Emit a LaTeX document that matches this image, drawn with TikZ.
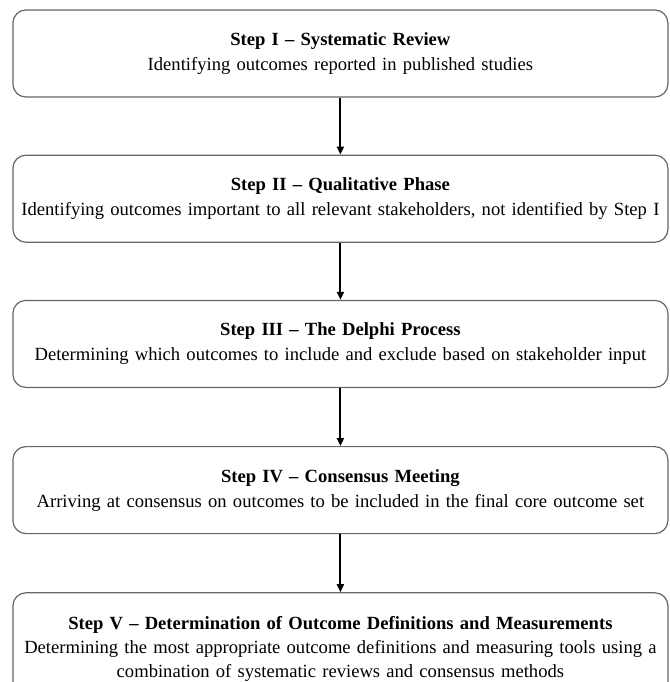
\documentclass[tikz,border=0pt]{standalone}
\usepackage{fontspec}
\setmainfont{Liberation Serif}[WordSpace=0.85]
\usetikzlibrary{positioning,arrows.meta}

\tikzset{
  stepbox/.style={draw=black!60, line width=1.2pt, rounded corners=13pt,
    text width=655pt, align=center, minimum height=87pt, inner sep=0pt,
    font=\fontsize{18.6}{25}\selectfont},
  flow/.style={-{Triangle[length=8pt,width=7pt]}, line width=2pt}
}

\begin{document}
\begin{tikzpicture}
\useasboundingbox (0pt,0pt) rectangle (669pt,-682pt);

\node[stepbox] (review) at (340.4pt,-53.5pt)
  {\textbf{Step I -- Systematic Review}\\
   Identifying outcomes reported in published studies};
\node[stepbox, below=57pt of review] (qual)
  {\textbf{Step II -- Qualitative Phase}\\
   Identifying outcomes important to all relevant stakeholders, not identified by Step I};
\node[stepbox, below=57pt of qual] (delphi)
  {\textbf{Step III -- The Delphi Process}\\
   Determining which outcomes to include and exclude based on stakeholder input};
\node[stepbox, below=58pt of delphi] (meeting)
  {\textbf{Step IV -- Consensus Meeting}\\
   Arriving at consensus on outcomes to be included in the final core outcome set};
\node[stepbox, below=58pt of meeting, minimum height=112pt,
      font=\fontsize{18.6}{24}\selectfont] (defs)
  {\textbf{Step V -- Determination of Outcome Definitions and Measurements}\\
   Determining the most appropriate outcome definitions and measuring tools using a\\
   combination of systematic reviews and consensus methods};

% arrows between the steps
\draw[flow] (review) -- (qual);
\draw[flow] (qual) -- (delphi);
\draw[flow] (delphi) -- (meeting);
\draw[flow] (meeting) -- (defs);
\end{tikzpicture}
\end{document}
